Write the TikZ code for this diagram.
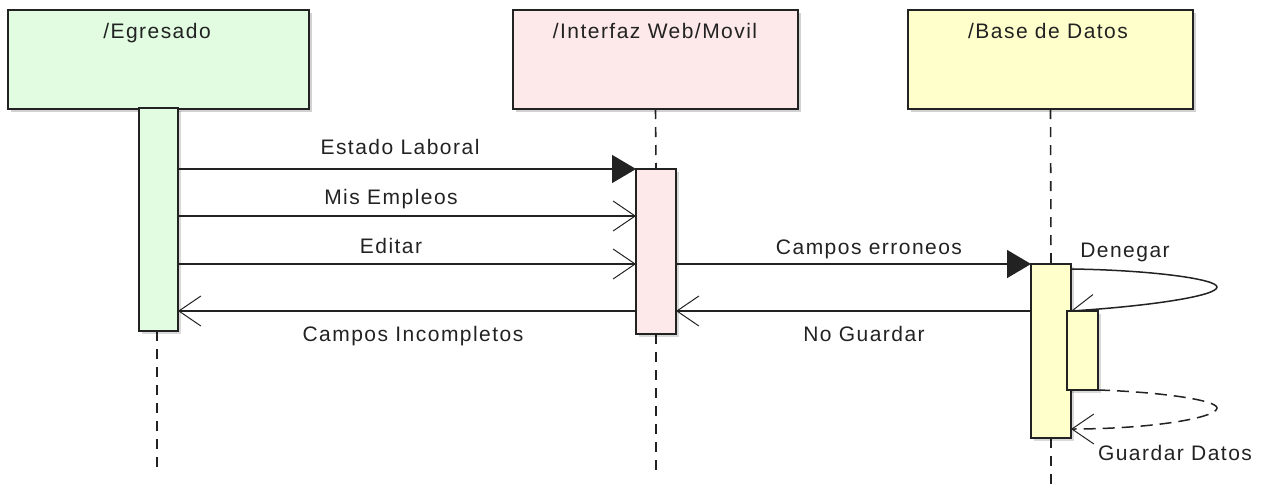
\documentclass[tikz,border=0pt]{standalone}
\usepackage{fontspec}
\setmainfont{Liberation Sans}[LetterSpace=7]
\usetikzlibrary{arrows.meta,shadows}
\definecolor{cgreen}{RGB}{225,252,225}
\definecolor{cpink}{RGB}{253,233,233}
\definecolor{cyellow}{RGB}{255,255,204}
\definecolor{cline}{RGB}{34,34,34}
\begin{document}
\begin{tikzpicture}[x=1pt,y=-1pt,
  every node/.style={font=\fontsize{21}{25}\selectfont, text=cline},
  head/.style={draw=cline, line width=1.5pt, inner sep=0pt, outer sep=0pt,
    drop shadow={shadow xshift=3pt, shadow yshift=-3pt, fill=black, opacity=0.18}},
  actbar/.style={draw=cline, line width=1.5pt, inner sep=0pt, outer sep=0pt,
    drop shadow={shadow xshift=3pt, shadow yshift=-3pt, fill=black, opacity=0.15}},
  life/.style={draw=cline, line width=1.6pt, dash pattern=on 10pt off 8pt},
  sync/.style={draw=cline, line width=1.5pt, -{Triangle[length=24pt, width=28pt]}},
  async/.style={draw=cline, line width=1.5pt, -{Straight Barb[length=22pt, width=30pt, line width=1pt]}},
  ret/.style={draw=cline, line width=1.5pt, dash pattern=on 12pt off 7pt, -{Straight Barb[length=22pt, width=30pt, line width=1pt]}},
  lbl/.style={anchor=base, inner sep=0pt}
]
\useasboundingbox (0,0) rectangle (1272,493);

% headers
\node[head, fill=cgreen, minimum width=301pt, minimum height=99pt] (eg) at (158.5,59.5) {};
\node[head, fill=cpink, minimum width=285pt, minimum height=99pt] (wi) at (655.5,59.5) {};
\node[head, fill=cyellow, minimum width=285pt, minimum height=99pt] (db) at (1050.5,59.5) {};
\node[lbl] (egl) at (157,38) {/Egresado};
\node[lbl] (wil) at (655,38) {/Interfaz Web/Movil};
\node[lbl] (dbl) at (1048,38) {/Base de Datos};

% lifelines
\coordinate (b1c) at (157,331);
\draw[life] (b1c) -- ++(0,139);
\draw[life] (wi.south) -- (656,169);
\draw[life] (656,334) -- ++(0,136);
\draw[life] (db.south) -- (1051,264);
\draw[life] (1051,438) -- ++(0,52);

% activation bars
\node[actbar, fill=cgreen, minimum width=39pt, minimum height=223pt] (b1) at (158.5,219.5) {};
\node[actbar, fill=cpink, minimum width=40pt, minimum height=165pt] (b2) at (656,251.5) {};
\node[actbar, fill=cyellow, minimum width=40pt, minimum height=174pt] (b3) at (1051,351) {};

% messages
\draw[sync] (b1.east |- b2.north west) -- (b2.north west);
\draw[async] (b1.east |- 0,216) -- (b2.west |- 0,216);
\draw[async] (b1.east |- 0,264) -- (b2.west |- 0,264);
\draw[sync] (b2.east |- b3.north west) -- (b3.north west);
\draw[async] (b2.west |- 0,311) -- (b1.east |- 0,311);
\draw[async] (b3.west |- 0,311) -- (b2.east |- 0,311);

% self messages
\draw[async] (b3.east |- 0,269) .. controls (1150,270) and (1217,279) .. (1217,287)
  .. controls (1217,296) and (1150,306) .. (b3.east |- 0,311);
\node[actbar, fill=cyellow, minimum width=31pt, minimum height=79pt] (b4) at (1082.5,350.5) {};
\draw[ret] (b4.south east) .. controls (1160,392) and (1217,400) .. (1217,408)
  .. controls (1217,418) and (1150,429) .. (b3.east |- 0,429);

% labels
\node[lbl] (m1) at (400,154) {Estado Laboral};
\node[lbl] (m2) at (391,204) {Mis Empleos};
\node[lbl] (m3) at (391,253) {Editar};
\node[lbl] (m4) at (869,254) {Campos erroneos};
\node[lbl] (m5) at (413,341) {Campos Incompletos};
\node[lbl] (m6) at (864,341) {No Guardar};
\node[lbl] (m7) at (1125,257) {Denegar};
\node[lbl] (m8) at (1175,460) {Guardar Datos};
\end{tikzpicture}
\end{document}
